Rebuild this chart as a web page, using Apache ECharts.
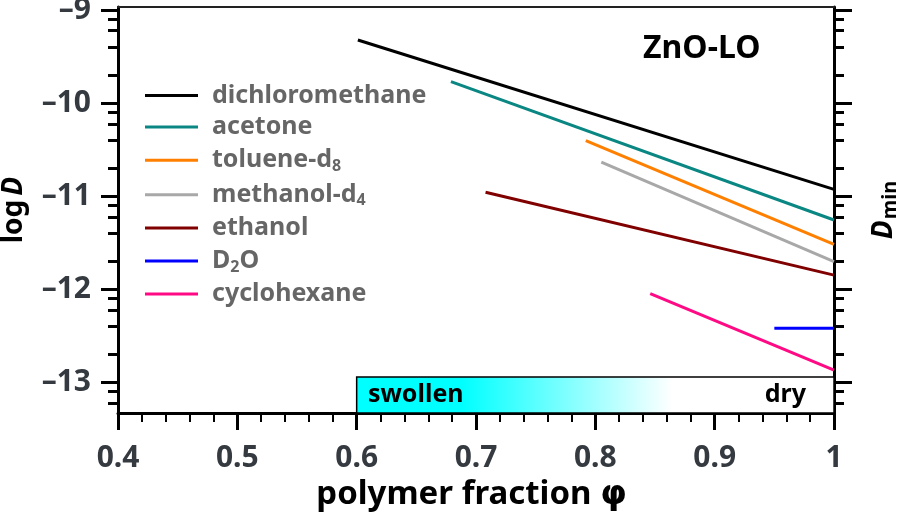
<!DOCTYPE html>
<html>
<head>
<meta charset="utf-8">
<script src="https://cdn.jsdelivr.net/npm/echarts@6/dist/echarts.min.js"></script>
<style>html,body{margin:0;padding:0;background:#fff}#c{width:898px;height:524px}</style>
</head>
<body>
<div id="c"></div>
<script>
// ---- data ----
const solvents = ['dichloromethane','acetone','toluene-d8','methanol-d4','ethanol','D2O','cyclohexane'];
const phiStart = [0.601, 0.679, 0.792, 0.805, 0.708, 0.950, 0.846];
const phiEnd   = [1.0, 1.0, 1.0, 1.0, 1.0, 1.0, 1.0];
const logDStart = [-9.322, -9.769, -10.403, -10.634, -10.956, -12.416, -12.045];
const logDEnd   = [-10.925, -11.254, -11.515, -11.700, -11.845, -12.416, -12.864];
const xTicks = [0.4, 0.5, 0.6, 0.7, 0.8, 0.9, 1.0];
const yMajor = [-13, -12, -11, -10, -9];
const yMinorMult = [2, 4, 6, 8];
const barPhi = [0.6, 1.0];
const barLogD = [-12.94, -13.325];
const barLabels = ['swollen', 'dry'];

// ---- styles ----
const colors = ['#000000','#0a8783','#ff8000','#a8a8a8','#800000','#0000ff','#ff0a84'];
const FONT = '"Noto Sans", "Open Sans", sans-serif';
const yMin = -13.325, yMax = -8.968;

const yMinor = [];
for (let d = -14; d <= -9; d++) {
  yMinorMult.forEach(m => { const v = d + Math.log10(m); if (v > yMin && v < yMax) yMinor.push(v); });
}

const subMap = {'toluene-d8':'toluene-d{s|8}','methanol-d4':'methanol-d{s|4}','D2O':'D{s|2}O'};

const series = solvents.map((n, i) => ({
  name: n, type: 'line', symbol: 'none', silent: true,
  lineStyle: {width: 3, color: colors[i]}, itemStyle: {color: colors[i]},
  data: [[phiStart[i], logDStart[i]], [phiEnd[i], logDEnd[i]]], z: 3
}));

series.push({
  type: 'line', data: [], silent: true,
  markArea: {
    silent: true,
    data: [
      [{xAxis: barPhi[0], yAxis: barLogD[0],
        itemStyle: {color: new echarts.graphic.LinearGradient(0,0,1,0,[
          {offset:0,color:'#00ffff'},{offset:0.22,color:'#00ffff'},{offset:0.66,color:'#ffffff'},{offset:1,color:'#ffffff'}]),
          borderColor:'#000', borderWidth:1.5},
        label: {show:true, position:'insideLeft', formatter: barLabels[0], distance: 12}},
       {xAxis: barPhi[1], yAxis: barLogD[1]}],
      [{xAxis: barPhi[0], yAxis: barLogD[0],
        itemStyle: {color:'rgba(0,0,0,0)', borderWidth:0},
        label: {show:true, position:'insideRight', formatter: barLabels[1], distance: 28}},
       {xAxis: barPhi[1], yAxis: barLogD[1]}]
    ],
    label: {color:'#000', fontSize: 25, fontWeight:'bold', fontFamily: FONT}
  }
});

const chart = echarts.init(document.getElementById('c'), null, {renderer:'canvas'});
chart.setOption({
  animation: false,
  backgroundColor: '#fff',
  title: {text: 'ZnO-LO', left: 643, top: 33, padding: 0,
    textStyle: {fontSize: 32, fontWeight: 'bold', color: '#000', fontFamily: FONT}},
  grid: {left: 118, right: 64, top: 7, bottom: 111, containLabel: false, outerBoundsMode: 'none'},
  legend: {
    orient: 'vertical', left: 145, top: 83, padding: 0, icon: 'rect', itemWidth: 53, itemHeight: 3, itemGap: 6.6,
    data: solvents,
    formatter: n => subMap[n] || n,
    textStyle: {fontSize: 25, fontWeight: 'bold', color: '#666666', fontFamily: FONT, lineHeight: 24, padding: [0,0,0,9],
      rich: {s: {fontSize: 16, fontWeight: 'bold', color: '#666666', fontFamily: FONT, padding: [12,0,0,0], lineHeight: 16}}},
    selectedMode: false
  },
  xAxis: [
    {type: 'value', min: 0.4, max: 1.0, interval: 0.1, position: 'bottom',
     axisLine: {show: true, lineStyle: {color: '#000', width: 3}},
     axisTick: {show: true, length: 17, lineStyle: {color:'#000', width: 3}, customValues: xTicks},
     minorTick: {show: true, splitNumber: 5, length: 9, lineStyle: {color:'#000', width: 2}},
     splitLine: {show: false},
     axisLabel: {customValues: xTicks, margin: 30, fontSize: 30, fontWeight: 'bold', color: '#343a40', fontFamily: FONT,
       formatter: v => (Math.abs(v-1) < 1e-9 ? '1' : v.toFixed(1))},
     name: 'polymer fraction {p|φ}', nameLocation: 'middle', nameGap: 61,
     nameTextStyle: {fontSize: 33, fontWeight: 'bold', color: '#000', fontFamily: FONT, padding: [0, 9, 0, 0],
       rich: {p: {fontSize: 34, fontWeight: 'bold', color: '#000', fontFamily: '"DejaVu Sans", sans-serif'}}}},
    {type: 'value', min: 0.4, max: 1.0, position: 'top',
     axisLine: {show: true, lineStyle: {color: '#222', width: 2}},
     axisTick: {show: false}, axisLabel: {show: false}, splitLine: {show: false}}
  ],
  yAxis: [
    {type: 'value', min: yMin, max: yMax, position: 'left',
     axisLine: {show: true, lineStyle: {color: '#000', width: 3}},
     axisTick: {show: true, length: 17, customValues: yMajor, lineStyle: {color:'#000', width: 3}},
     axisLabel: {customValues: yMajor, margin: 27, fontSize: 30, fontWeight: 'bold', color: '#343a40', fontFamily: FONT,
       formatter: v => '–' + Math.abs(Math.round(v))},
     splitLine: {show: false},
     name: '{l|log}{d|D}', nameLocation: 'middle', nameGap: 90, nameRotate: 90,
     nameTextStyle: {rich: {
       l: {fontSize: 28, fontWeight: 'bold', color: '#000', fontFamily: FONT},
       d: {fontSize: 28, fontWeight: 'bold', fontStyle: 'italic', color: '#000', fontFamily: FONT, padding: [0,0,0,4]}}}},
    {type: 'value', min: yMin, max: yMax, position: 'left',
     axisLine: {show: false},
     axisTick: {show: true, length: 10, customValues: yMinor, lineStyle: {color:'#000', width: 3}},
     axisLabel: {show: false}, splitLine: {show: false}},
    {type: 'value', min: yMin, max: yMax, position: 'right',
     axisLine: {show: true, lineStyle: {color: '#000', width: 3}},
     axisTick: {show: true, length: 18, customValues: yMajor, lineStyle: {color:'#000', width: 3}},
     axisLabel: {show: false}, splitLine: {show: false},
     name: '{d|D}{m|min}', nameLocation: 'middle', nameGap: 34, nameRotate: 90,
     nameTextStyle: {rich: {
       d: {fontSize: 28, fontWeight: 'bold', fontStyle: 'italic', color: '#000', fontFamily: FONT},
       m: {fontSize: 20, fontWeight: 'bold', color: '#000', fontFamily: FONT, padding: [12,0,0,1]}}}},
    {type: 'value', min: yMin, max: yMax, position: 'right',
     axisLine: {show: false},
     axisTick: {show: true, length: 10, customValues: yMinor, lineStyle: {color:'#000', width: 3}},
     axisLabel: {show: false}, splitLine: {show: false}}
  ],
  series: series
});
</script>
</body>
</html>
